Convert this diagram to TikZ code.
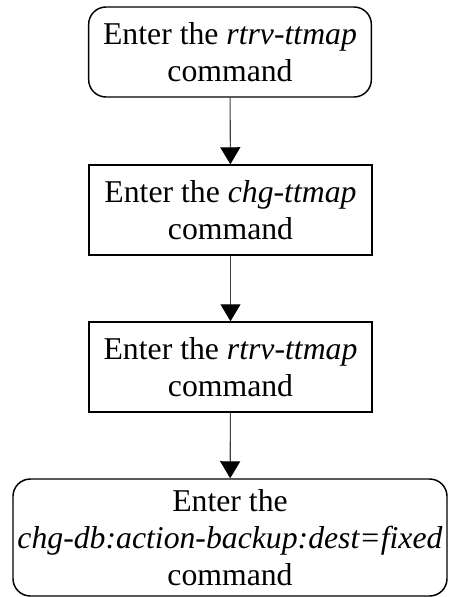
\documentclass[tikz,border=0pt]{standalone}
\usepackage{fontspec}
\setmainfont{Liberation Serif}
\usepackage{tikz}
\usetikzlibrary{
    arrows.meta,
    positioning
}
\definecolor{darkgray}{RGB}{64,64,64}

\begin{document}
\begin{tikzpicture}[
    x=0.75pt, y=-0.75pt,
    stepbox/.style={
        rectangle, draw, line width=1.1pt,
        minimum width=212pt, minimum height=67.5pt,
        inner sep=0pt, align=center,
        font=\fontsize{23.8}{27.8}\selectfont
    },
    termbox/.style={stepbox, rounded corners=13pt},
    arrow/.style={-{Triangle[length=12.75pt, width=15pt, color=black]}, line width=0.8pt, darkgray}
]
\useasboundingbox (0,0) rectangle (452,597);

% Steps
\node[termbox] (rtrv1) at (230, 52) {Enter the \textit{rtrv-ttmap}\\command};
\node[stepbox] (chg)   at (230.5, 210) {Enter the \textit{chg-ttmap}\\command};
\node[stepbox] (rtrv2) at (230.5, 367) {Enter the \textit{rtrv-ttmap}\\command};
\node[termbox, minimum width=325.5pt, minimum height=87.75pt] (chgdb) at (230, 537.5)
    {Enter the\\\textit{chg-db:action-backup:dest=fixed}\\command};

% Arrows
\draw[arrow] (rtrv1) -- (chg);
\draw[arrow] (chg) -- (rtrv2);
\draw[arrow] (rtrv2) -- (chgdb);

\end{tikzpicture}
\end{document}
